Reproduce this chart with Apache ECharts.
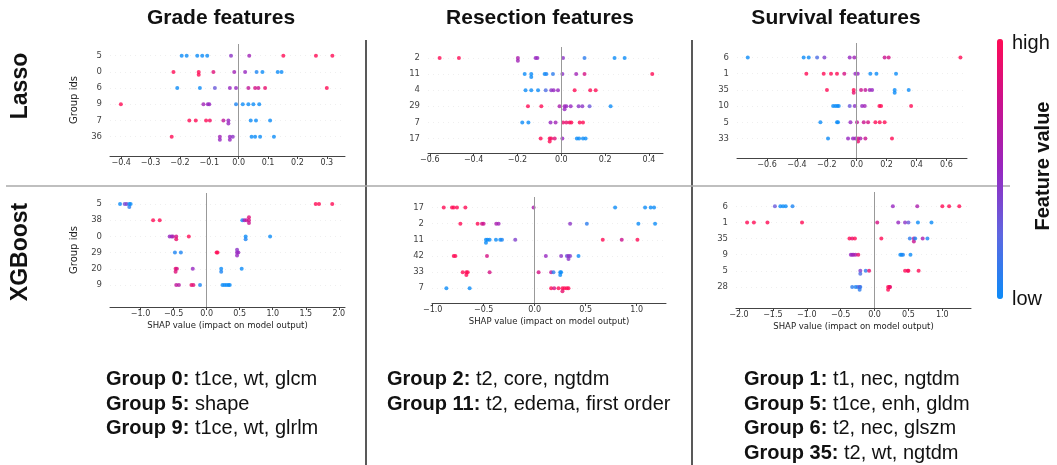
<!DOCTYPE html>
<html>
<head>
<meta charset="utf-8">
<script src="https://cdn.jsdelivr.net/npm/echarts@6/dist/echarts.min.js"></script>
<style>
  html, body { margin: 0; padding: 0; background: #fff; }
  #chart { width: 1057px; height: 465px; }
</style>
</head>
<body>
<div id="chart"></div>
<script>
// group ids per row, top to bottom
const lassoGradeIds = ['5', '0', '6', '9', '7', '36'];
const lassoResectionIds = ['2', '11', '4', '29', '7', '17'];
const lassoSurvivalIds = ['6', '1', '35', '10', '5', '33'];
const xgbGradeIds = ['5', '38', '0', '29', '20', '9'];
const xgbResectionIds = ['17', '2', '11', '42', '33', '7'];
const xgbSurvivalIds = ['6', '1', '35', '9', '5', '28'];

// SHAP values (one list per row) and feature value 0 = low .. 1 = high
const lassoGradeShap = [
  [-0.194, -0.177, -0.141, -0.124, -0.107, -0.026, 0.036, 0.152, 0.263, 0.319],
  [-0.222, -0.136, -0.136, -0.086, -0.015, 0.022, 0.061, 0.081, 0.133, 0.146],
  [-0.209, -0.132, -0.081, -0.030, -0.009, 0.033, 0.056, 0.067, 0.090, 0.300],
  [-0.401, -0.120, -0.105, -0.100, -0.009, 0.014, 0.033, 0.050, 0.070],
  [-0.168, -0.146, -0.111, -0.098, -0.052, -0.035, -0.035, 0.041, 0.059, 0.107],
  [-0.228, -0.064, -0.064, -0.030, -0.030, -0.020, 0.044, 0.056, 0.073, 0.120],
];
const lassoGradeFeat = [
  [0, 0, 0, 0, 0, 0.45, 0.55, 1, 1, 1],
  [1, 1, 1, 0.85, 0.55, 0.5, 0.05, 0, 0, 0],
  [0, 0, 0.3, 0.5, 0.5, 0.7, 0.8, 0.75, 0.9, 1],
  [1, 0.55, 0.5, 0.5, 0.05, 0, 0, 0, 0],
  [1, 1, 1, 0.95, 0.7, 0.5, 0.5, 0, 0, 0],
  [1, 0.55, 0.5, 0.5, 0.5, 0.45, 0, 0, 0, 0],
];

const lassoResectionShap = [
  [-0.555, -0.467, -0.198, -0.198, -0.117, -0.109, 0.008, 0.106, 0.243, 0.289],
  [-0.167, -0.137, -0.137, -0.076, -0.068, -0.038, 0.005, 0.068, 0.106, 0.415],
  [-0.163, -0.137, -0.106, -0.071, -0.046, -0.035, -0.015, 0.061, 0.132, 0.157],
  [-0.152, -0.091, -0.008, 0.015, 0.015, 0.023, 0.043, 0.079, 0.096, 0.129, 0.225],
  [-0.178, -0.150, -0.049, -0.026, 0.008, 0.023, 0.038, 0.046, 0.084, 0.099],
  [-0.094, -0.053, -0.053, -0.046, -0.030, 0.005, 0.071, 0.081, 0.099, 0.111],
];
const lassoResectionFeat = [
  [1, 1, 0.6, 0.55, 0.5, 0.5, 0.45, 0.1, 0, 0],
  [0, 0, 0, 0, 0.05, 0.1, 0.45, 0.55, 0.8, 1],
  [0, 0, 0, 0.2, 0.45, 0.5, 0.5, 1, 1, 1],
  [1, 1, 0.6, 0.55, 0.5, 0.5, 0.5, 0.45, 0.45, 0.3, 0],
  [0, 0, 0.5, 0.55, 0.9, 0.9, 0.95, 1, 1, 1],
  [1, 1, 1, 0.95, 0.85, 0.5, 0, 0, 0, 0],
];

const lassoSurvivalShap = [
  [-0.729, -0.355, -0.321, -0.265, -0.216, -0.047, -0.016, 0.187, 0.214, 0.694],
  [-0.337, -0.221, -0.172, -0.132, -0.083, -0.009, 0.007, 0.091, 0.132, 0.263],
  [-0.199, -0.020, -0.020, 0.029, 0.058, 0.087, 0.103, 0.254, 0.254, 0.348],
  [-0.158, -0.143, -0.130, -0.120, -0.047, -0.013, 0.036, 0.054, 0.152, 0.163, 0.364],
  [-0.243, -0.132, -0.125, -0.042, 0.002, 0.047, 0.076, 0.125, 0.154, 0.187],
  [-0.192, -0.058, -0.025, -0.009, 0.009, 0.009, 0.025, 0.058, 0.236],
];
const lassoSurvivalFeat = [
  [0, 0, 0, 0.2, 0.4, 0.5, 0.55, 0.75, 0.8, 1],
  [1, 1, 1, 1, 0.8, 0.5, 0.5, 0, 0, 0],
  [1, 1, 0.9, 0.75, 0.7, 0.55, 0.5, 0, 0, 0],
  [0, 0, 0, 0, 0.3, 0.45, 0.5, 0.55, 1, 1, 1],
  [0, 0, 0, 0.5, 0.7, 0.75, 0.8, 1, 1, 1],
  [0, 0.5, 0.5, 0.55, 0.8, 0.9, 0.6, 0.75, 1],
];

const xgbGradeShap = [
  [-1.31, -1.24, -1.21, -1.17, -1.17, -1.15, 1.65, 1.70, 1.90],
  [-0.81, -0.71, 0.54, 0.57, 0.60, 0.64, 0.64, 0.64],
  [-0.56, -0.53, -0.51, -0.46, -0.46, -0.27, 0.59, 0.59, 0.96],
  [-0.48, -0.39, 0.15, 0.165, 0.46, 0.46, 0.46, 0.48],
  [-0.47, -0.47, -0.45, -0.21, 0.22, 0.22, 0.53],
  [-0.46, -0.42, -0.23, -0.20, -0.10, 0.24, 0.27, 0.30, 0.33, 0.35],
];
const xgbGradeFeat = [
  [0, 0.35, 0.4, 0, 0.1, 0, 1, 1, 1],
  [1, 1, 0, 0.5, 0.7, 0.8, 0.75, 0.85],
  [0.5, 0.5, 0.6, 0.8, 0.9, 1, 0, 0.05, 0],
  [0.05, 0.05, 1, 1, 0.5, 0.5, 0.45, 0.5],
  [0.9, 0.85, 0.8, 0.5, 0, 0.05, 0],
  [0.7, 0.65, 0.9, 0.85, 0.05, 0, 0, 0, 0, 0],
];

const xgbResectionShap = [
  [-0.892, -0.811, -0.794, -0.762, -0.680, -0.011, 0.788, 1.082, 1.137, 1.170],
  [-0.729, -0.560, -0.517, -0.501, -0.377, -0.354, 0.347, 0.511, 1.016, 1.180],
  [-0.478, -0.478, -0.462, -0.442, -0.380, -0.338, -0.321, -0.191, 0.667, 0.853, 1.007],
  [-0.794, -0.778, -0.468, 0.109, 0.259, 0.315, 0.331, 0.331, 0.347, 0.429],
  [-0.706, -0.670, -0.670, -0.657, -0.442, 0.038, 0.161, 0.184, 0.250, 0.250, 0.259],
  [-0.866, -0.638, 0.161, 0.191, 0.233, 0.272, 0.272, 0.292, 0.315, 0.331],
];
const xgbResectionFeat = [
  [1, 1, 1, 1, 1, 0.6, 0, 0, 0, 0],
  [1, 1, 0.8, 0.75, 0.6, 0.55, 0.45, 0.1, 0, 0],
  [0, 0, 0, 0, 0, 0, 0.05, 0.4, 1, 0.75, 1],
  [1, 1, 0.8, 0.5, 0.45, 0.3, 0.5, 0.45, 0.4, 0],
  [1, 1, 1, 1, 0.8, 0.8, 0.7, 0.1, 0, 0, 0],
  [0, 0, 1, 0.8, 1, 1, 0.9, 1, 1, 1],
];

const xgbSurvivalShap = [
  [-1.47, -1.39, -1.35, -1.31, -1.21, 0.27, 0.63, 1.00, 1.10, 1.25],
  [-1.88, -1.78, -1.58, -1.07, 0.04, 0.35, 0.45, 0.50, 0.64, 0.84],
  [-0.37, -0.33, -0.29, 0.10, 0.52, 0.58, 0.58, 0.60, 0.71, 0.78],
  [-0.35, -0.33, -0.31, -0.28, -0.24, 0.38, 0.40, 0.42, 0.53],
  [-0.21, -0.21, -0.13, -0.08, 0.45, 0.49, 0.50, 0.65],
  [-0.33, -0.28, -0.25, -0.22, -0.22, -0.21, 0.20, 0.20, 0.22, 0.23],
];
const xgbSurvivalFeat = [
  [0.3, 0, 0, 0, 0.05, 0.5, 0.6, 1, 1, 1],
  [1, 1, 1, 1, 0.8, 0.5, 0.45, 0.3, 0, 0],
  [1, 0.9, 1, 1, 0.1, 0.7, 0.75, 0.05, 0.6, 0.05],
  [0.5, 0.5, 0.55, 0.6, 0.9, 0, 0, 0.05, 0],
  [0.4, 0.2, 0.1, 0.9, 1, 0.9, 1, 1],
  [0.1, 0.05, 0.1, 0.4, 0.1, 0.1, 1, 1, 1, 0.9],
];

// x tick labels
const ticksLassoGrade = [-0.4, -0.3, -0.2, -0.1, 0, 0.1, 0.2, 0.3];
const ticksLassoResection = [-0.6, -0.4, -0.2, 0, 0.2, 0.4];
const ticksLassoSurvival = [-0.6, -0.4, -0.2, 0, 0.2, 0.4, 0.6];
const ticksXgbGrade = [-1.0, -0.5, 0, 0.5, 1.0, 1.5, 2.0];
const ticksXgbResection = [-1.0, -0.5, 0, 0.5, 1.0];
const ticksXgbSurvival = [-2.0, -1.5, -1.0, -0.5, 0, 0.5, 1.0];

const xTitle = 'SHAP value (impact on model output)';

// layout of each small plot
const panels = [
  { ids: lassoGradeIds, shap: lassoGradeShap, feat: lassoGradeFeat, ticks: ticksLassoGrade,
    left: 110, top: 44, width: 235, height: 112, xMin: -0.438, xMax: 0.362, yMin: -0.72, yMax: 6.19, yName: 'Group ids', xName: '' },
  { ids: lassoResectionIds, shap: lassoResectionShap, feat: lassoResectionFeat, ticks: ticksLassoResection,
    left: 428, top: 47, width: 235, height: 106, xMin: -0.608, xMax: 0.464, yMin: -0.68, yMax: 5.9, yName: '', xName: '' },
  { ids: lassoSurvivalIds, shap: lassoSurvivalShap, feat: lassoSurvivalFeat, ticks: ticksLassoSurvival,
    left: 737, top: 43, width: 230, height: 115, xMin: -0.801, xMax: 0.738, yMin: -0.89, yMax: 6.2, yName: '', xName: '' },
  { ids: xgbGradeIds, shap: xgbGradeShap, feat: xgbGradeFeat, ticks: ticksXgbGrade,
    left: 110, top: 193, width: 235, height: 114, xMin: -1.462, xMax: 2.093, yMin: -0.68, yMax: 6.36, yName: 'Group ids', xName: xTitle },
  { ids: xgbResectionIds, shap: xgbResectionShap, feat: xgbResectionFeat, ticks: ticksXgbResection,
    left: 432, top: 197, width: 234, height: 106, xMin: -1.007, xMax: 1.287, yMin: -0.65, yMax: 5.91, yName: '', xName: xTitle },
  { ids: xgbSurvivalIds, shap: xgbSurvivalShap, feat: xgbSurvivalFeat, ticks: ticksXgbSurvival,
    left: 736, top: 192, width: 235, height: 116, xMin: -2.044, xMax: 1.423, yMin: -0.89, yMax: 6.31, yName: '', xName: xTitle },
];

// beeswarm stacking, same idea as shap's summary_plot
function swarm(values) {
  const lo = Math.min(...values);
  const hi = Math.max(...values);
  const q = values.map(v => Math.round(100 * (v - lo) / (hi - lo + 1e-8)));
  const order = values.map((v, i) => i).sort((a, b) => q[a] - q[b] || values[a] - values[b]);
  const ys = values.map(() => 0);
  let layer = 0;
  let last = -1;
  order.forEach(i => {
    if (q[i] !== last) layer = 0;
    ys[i] = Math.ceil(layer / 2) * ((layer % 2) * 2 - 1);
    layer += 1;
    last = q[i];
  });
  const m = Math.max(...ys.map(y => y + 1));
  return ys.map(y => (y * 0.9 * 0.4) / m);
}

const fmt = v => (v < 0 ? '\u2212' : '') + Math.abs(v).toFixed(1);
const tickFont = 'DejaVu Sans';
const textFont = 'Liberation Sans, Arial, sans-serif';

const grid = [];
const xAxis = [];
const yAxis = [];
const series = [];

panels.forEach((p, k) => {
  grid.push({ left: p.left, top: p.top, width: p.width, height: p.height, outerBoundsMode: 'none' });
  const rows = p.ids.map((id, i) => i);
  xAxis.push({
    type: 'value',
    gridIndex: k,
    min: p.xMin,
    max: p.xMax,
    name: p.xName,
    nameLocation: 'middle',
    nameGap: 14,
    nameTextStyle: { fontFamily: tickFont, fontSize: 8.5, color: '#222' },
    axisLine: { show: true, onZero: false, lineStyle: { color: '#444', width: 1 } },
    axisTick: { show: true, length: 3, customValues: p.ticks, lineStyle: { color: '#444' } },
    axisLabel: { customValues: p.ticks, formatter: fmt, fontFamily: tickFont, fontSize: 8, color: '#333', margin: 3 },
    splitLine: { show: false },
  });
  yAxis.push({
    type: 'value',
    gridIndex: k,
    inverse: true,
    min: p.yMin,
    max: p.yMax,
    name: p.yName,
    nameLocation: 'middle',
    nameRotate: 90,
    nameGap: 31,
    nameTextStyle: { fontFamily: tickFont, fontSize: 10, color: '#222' },
    axisLine: { show: false },
    axisTick: { show: false, customValues: rows },
    axisLabel: { customValues: rows, formatter: v => p.ids[Math.round(v)], fontFamily: tickFont, fontSize: 8.5, color: '#444', margin: 8 },
    splitLine: { show: true, lineStyle: { color: '#e4e4e4', width: 0.6, type: [1, 4] } },
  });
  const data = [];
  p.shap.forEach((vals, r) => {
    const off = swarm(vals);
    vals.forEach((v, j) => data.push([v, r + off[j], p.feat[r][j]]));
  });
  series.push({
    type: 'scatter',
    xAxisIndex: k,
    yAxisIndex: k,
    symbolSize: 4,
    data,
    markLine: {
      silent: true,
      symbol: ['none', 'none'],
      label: { show: false },
      lineStyle: { color: '#999', width: 1, type: 'solid' },
      data: [{ xAxis: 0 }],
    },
  });
});

const noteStyle = (text, x, y) => ({
  type: 'text',
  x,
  y,
  style: {
    text,
    fontFamily: textFont,
    fontSize: 20,
    fill: '#111',
    verticalAlign: 'middle',
    rich: { b: { fontFamily: textFont, fontSize: 20, fontWeight: 'bold', fill: '#111' } },
  },
});
const titleText = (text, x, y, size, rot) => ({
  type: 'text',
  x,
  y,
  rotation: rot || 0,
  style: { text, fontFamily: textFont, fontSize: size, fontWeight: 'bold', fill: '#111', align: 'center', verticalAlign: 'middle' },
});

const graphic = [
  titleText('Grade features', 221, 18, 21),
  titleText('Resection features', 540, 18, 21),
  titleText('Survival features', 836, 18, 21),
  titleText('Lasso', 21, 86, 23, Math.PI / 2),
  titleText('XGBoost', 21, 252, 23, Math.PI / 2),
  titleText('Feature value', 1043, 166, 20, Math.PI / 2),
  { type: 'text', x: 1012, y: 43, style: { text: 'high', fontFamily: textFont, fontSize: 20, fill: '#111', verticalAlign: 'middle' } },
  { type: 'text', x: 1012, y: 299, style: { text: 'low', fontFamily: textFont, fontSize: 20, fill: '#111', verticalAlign: 'middle' } },
  { type: 'line', shape: { x1: 366, y1: 40, x2: 366, y2: 465 }, style: { stroke: '#222', lineWidth: 1.5 } },
  { type: 'line', shape: { x1: 692, y1: 40, x2: 692, y2: 465 }, style: { stroke: '#222', lineWidth: 1.5 } },
  { type: 'line', shape: { x1: 6, y1: 186, x2: 1010, y2: 186 }, style: { stroke: '#aaa', lineWidth: 1.5 } },
  noteStyle('{b|Group 0:} t1ce, wt, glcm', 106, 379),
  noteStyle('{b|Group 5:} shape', 106, 404),
  noteStyle('{b|Group 9:} t1ce, wt, glrlm', 106, 428),
  noteStyle('{b|Group 2:} t2, core, ngtdm', 387, 379),
  noteStyle('{b|Group 11:} t2, edema, first order', 387, 404),
  noteStyle('{b|Group 1:} t1, nec, ngtdm', 744, 379),
  noteStyle('{b|Group 5:} t1ce, enh, gldm', 744, 404),
  noteStyle('{b|Group 6:} t2, nec, glszm', 744, 428),
  noteStyle('{b|Group 35:} t2, wt, ngtdm', 744, 453),
];

const chart = echarts.init(document.getElementById('chart'), null, { renderer: 'canvas' });
chart.setOption({
  animation: false,
  backgroundColor: '#fff',
  grid,
  xAxis,
  yAxis,
  visualMap: {
    type: 'continuous',
    min: 0,
    max: 1,
    dimension: 2,
    seriesIndex: [0, 1, 2, 3, 4, 5],
    orient: 'vertical',
    left: 997,
    top: 39,
    itemWidth: 6,
    itemHeight: 260,
    padding: 0,
    calculable: false,
    text: null,
    showLabel: false,
    inRange: { color: ['#0c8cf8', '#5f66e0', '#9727c0', '#c9118f', '#ff0b55'] },
  },
  graphic,
  series,
});
</script>
</body>
</html>
